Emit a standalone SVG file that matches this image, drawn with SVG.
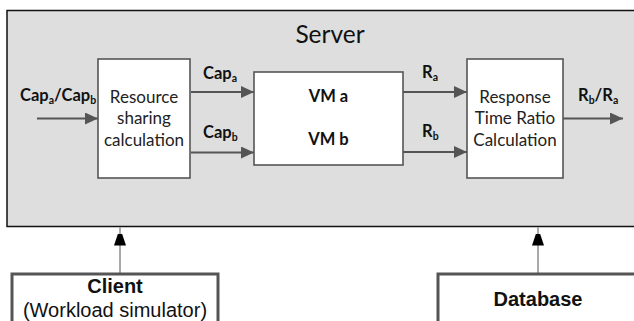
<svg xmlns="http://www.w3.org/2000/svg" width="634" height="321" viewBox="0 0 634 321">
  <style>
    .box { fill: #ffffff; stroke: #555555; stroke-width: 1.6; }
    .ext { fill: #ffffff; stroke: #555555; stroke-width: 3; }
    .flow { stroke: #555555; stroke-width: 2; fill: none; }
    .feed { stroke: #555555; stroke-width: 1; fill: none; }
    .t { font-family: Lato, "Open Sans", sans-serif; font-size: 17px; fill: #222222; }
    .b { font-family: Lato, "Open Sans", sans-serif; font-size: 16.5px; font-weight: bold; fill: #111111; }
    .big { font-family: Lato, "Open Sans", sans-serif; font-size: 24.5px; fill: #111111; }
    .a { font-family: "Liberation Sans", Arial, sans-serif; font-size: 20px; fill: #111111; }
    .ab { font-family: "Liberation Sans", Arial, sans-serif; font-size: 20px; font-weight: bold; fill: #111111; }
    .sub { font-size: 10.5px; }
  </style>
  <defs>
    <marker id="grey" markerUnits="userSpaceOnUse" markerWidth="14" markerHeight="12" refX="13" refY="6" orient="auto">
      <path d="M0,0 L13,6 L0,12 z" fill="#555555"/>
    </marker>
    <marker id="black" markerUnits="userSpaceOnUse" markerWidth="12" markerHeight="18" refX="18" refY="6" orient="auto">
      <path d="M0,0 L18,6 L0,12 z" fill="#000000"/>
    </marker>
  </defs>

  <!-- server enclosure -->
  <g id="server">
    <rect x="7" y="10.5" width="640" height="216" fill="#dedede" stroke="#111111" stroke-width="1.5"/>
    <text class="big" x="330" y="43" text-anchor="middle">Server</text>
  </g>

  <g id="resource">
    <rect class="box" x="98" y="59" width="92" height="119"/>
    <text class="t" x="144" y="102.5" text-anchor="middle">Resource</text>
    <text class="t" x="144" y="124" text-anchor="middle">sharing</text>
    <text class="t" x="144" y="145.5" text-anchor="middle">calculation</text>
  </g>

  <g id="vms">
    <rect class="box" x="254" y="72" width="149" height="93"/>
    <text class="b" x="328.5" y="102" text-anchor="middle">VM a</text>
    <text class="b" x="328.5" y="145" text-anchor="middle">VM b</text>
  </g>

  <g id="ratio">
    <rect class="box" x="467" y="59" width="96" height="119"/>
    <text class="t" x="515" y="102.5" text-anchor="middle">Response</text>
    <text class="t" x="515" y="124" text-anchor="middle">Time Ratio</text>
    <text class="t" x="515" y="145.5" text-anchor="middle">Calculation</text>
  </g>

  <g id="client">
    <rect class="ext" x="12" y="274" width="206" height="60"/>
    <text class="ab" x="115" y="293" text-anchor="middle">Client</text>
    <text class="a" x="115" y="317" text-anchor="middle">(Workload simulator)</text>
  </g>

  <g id="database">
    <rect class="ext" x="438" y="274" width="220" height="60"/>
    <text class="ab" x="538" y="306" text-anchor="middle">Database</text>
  </g>

  <!-- connectors -->
  <g id="connectors">
    <line class="flow" x1="37" y1="118.5" x2="98" y2="118.5" marker-end="url(#grey)"/>
    <line class="flow" x1="191" y1="92" x2="254" y2="92" marker-end="url(#grey)"/>
    <line class="flow" x1="191" y1="152.5" x2="254" y2="152.5" marker-end="url(#grey)"/>
    <line class="flow" x1="403" y1="92" x2="467" y2="92" marker-end="url(#grey)"/>
    <line class="flow" x1="403" y1="152" x2="467" y2="152" marker-end="url(#grey)"/>
    <line class="flow" x1="563" y1="118.5" x2="623" y2="118.5" marker-end="url(#grey)"/>
    <line class="feed" x1="120" y1="273" x2="120" y2="227.5" marker-end="url(#black)"/>
    <line class="feed" x1="538" y1="273" x2="538" y2="227.5" marker-end="url(#black)"/>
  </g>

  <!-- flow labels -->
  <g id="labels">
    <text class="b" x="20" y="101">Cap<tspan class="sub" dy="2.5">a</tspan><tspan dy="-2.5">/Cap</tspan><tspan class="sub" dy="2.5">b</tspan></text>
    <text class="b" x="203" y="79">Cap<tspan class="sub" dy="2.5">a</tspan></text>
    <text class="b" x="203" y="138">Cap<tspan class="sub" dy="2.5">b</tspan></text>
    <text class="b" x="422" y="78">R<tspan class="sub" dy="2.5">a</tspan></text>
    <text class="b" x="422" y="137">R<tspan class="sub" dy="2.5">b</tspan></text>
    <text class="b" x="578" y="101">R<tspan class="sub" dy="2.5">b</tspan><tspan dy="-2.5">/R</tspan><tspan class="sub" dy="2.5">a</tspan></text>
  </g>
</svg>
